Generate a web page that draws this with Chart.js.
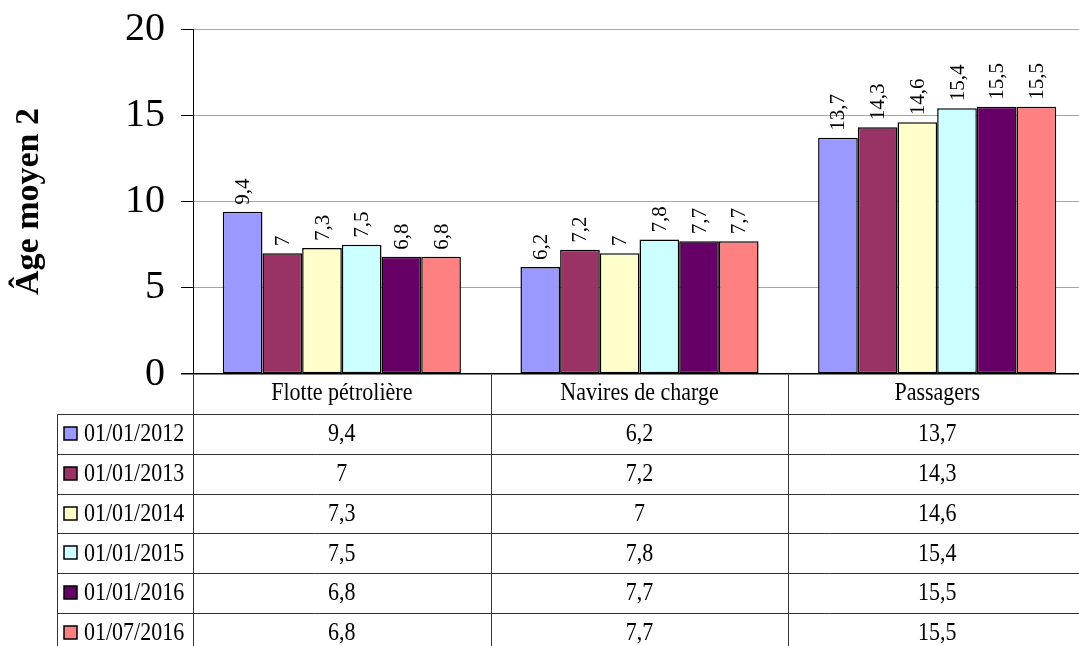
<!DOCTYPE html>
<html lang="fr">
<head>
<meta charset="utf-8">
<script src="https://cdn.jsdelivr.net/npm/chart.js@4.4.1/dist/chart.umd.min.js"></script>
<style>
  html, body { margin: 0; padding: 0; background: #fff; overflow: hidden; }
  #wrap { width: 1086px; height: 646px; }
</style>
</head>
<body>
<div id="wrap"><canvas id="graphe" width="1086" height="646"></canvas></div>
<script>
/* Âge moyen de la flotte, par type de navire et par date */

const CATEGORIES = ["Flotte pétrolière", "Navires de charge", "Passagers"];
const DATES = ["01/01/2012", "01/01/2013", "01/01/2014", "01/01/2015", "01/01/2016", "01/07/2016"];
const AGE_2012 = [9.4, 6.2, 13.7];
const AGE_2013 = [7, 7.2, 14.3];
const AGE_2014 = [7.3, 7, 14.6];
const AGE_2015 = [7.5, 7.8, 15.4];
const AGE_2016 = [6.8, 7.7, 15.5];
const AGE_2016_07 = [6.8, 7.7, 15.5];
const Y_TICKS = [0, 5, 10, 15, 20];

const SERIES = [AGE_2012, AGE_2013, AGE_2014, AGE_2015, AGE_2016, AGE_2016_07];
const COULEURS = ["#9999FF", "#993366", "#FFFFCC", "#CCFFFF", "#660066", "#FF8080"];
const POLICE = "'Liberation Serif', 'Times New Roman', serif";

const fmt = v => String(v).replace(".", ",");

// étiquettes verticales au-dessus des barres
const etiquettes = {
  id: "etiquettes",
  afterDatasetsDraw(chart) {
    const ctx = chart.ctx;
    ctx.save();
    ctx.fillStyle = "#000";
    ctx.font = `21px ${POLICE}`;
    ctx.textAlign = "left";
    ctx.textBaseline = "middle";
    chart.data.datasets.forEach((ds, i) => {
      chart.getDatasetMeta(i).data.forEach((bar, j) => {
        ctx.save();
        ctx.translate(bar.x, bar.y - 7);
        ctx.rotate(-Math.PI / 2);
        ctx.fillText(fmt(ds.data[j]), 0, 1);
        ctx.restore();
      });
    });
    ctx.restore();
  },
};

// table de données sous le graphique (style Excel)
const tableDonnees = {
  id: "tableDonnees",
  afterDraw(chart) {
    const ctx = chart.ctx;
    const { left, right, bottom } = chart.chartArea;
    const larg = (right - left) / CATEGORIES.length;
    const hautCat = 40;
    const hautLigne = 39.8;
    const xTable = 57;
    const yTable = bottom + hautCat;
    const yFin = chart.height;

    ctx.save();
    ctx.strokeStyle = "#333";
    ctx.lineWidth = 1;
    const trait = (x1, y1, x2, y2) => {
      ctx.beginPath();
      ctx.moveTo(Math.round(x1) + 0.5, Math.round(y1) + 0.5);
      ctx.lineTo(Math.round(x2) + 0.5, Math.round(y2) + 0.5);
      ctx.stroke();
    };

    // verticales
    trait(left, bottom, left, yFin);
    for (let c = 1; c <= CATEGORIES.length; c++) trait(left + c * larg, bottom, left + c * larg, yFin);
    trait(xTable, yTable, xTable, yFin);
    // horizontales
    for (let r = 0; r < DATES.length; r++) trait(xTable, yTable + r * hautLigne, right, yTable + r * hautLigne);

    // texte légèrement étiré en hauteur comme dans l'original
    const texte = (t, x, y) => {
      ctx.save();
      ctx.translate(x, y);
      ctx.scale(1, 1.1);
      ctx.fillText(t, 0, 0);
      ctx.restore();
    };

    ctx.fillStyle = "#000";
    ctx.font = `22px ${POLICE}`;
    ctx.textBaseline = "middle";
    ctx.textAlign = "center";
    CATEGORIES.forEach((c, j) => texte(c, left + (j + 0.5) * larg, bottom + hautCat / 2));

    DATES.forEach((d, r) => {
      const yc = yTable + (r + 0.5) * hautLigne;
      ctx.fillStyle = COULEURS[r];
      ctx.fillRect(64, Math.round(yc - 7), 13, 13);
      ctx.strokeStyle = "#000";
      ctx.lineWidth = 1.5;
      ctx.strokeRect(64, Math.round(yc - 7), 13, 13);
      ctx.fillStyle = "#000";
      ctx.textAlign = "left";
      texte(d, 84, yc + 1);
      ctx.textAlign = "center";
      SERIES[r].forEach((v, j) => texte(fmt(v), left + (j + 0.5) * larg, yc + 1));
    });
    ctx.restore();
  },
};

new Chart(document.getElementById("graphe"), {
  type: "bar",
  data: {
    labels: CATEGORIES,
    datasets: SERIES.map((s, i) => ({
      label: DATES[i],
      data: s,
      backgroundColor: COULEURS[i],
      borderColor: "#000",
      borderWidth: 1.5,
      borderSkipped: false,
      barPercentage: 1,
      categoryPercentage: 0.8,
    })),
  },
  options: {
    responsive: false,
    animation: false,
    layout: { padding: { top: 29, bottom: 272, left: 0, right: 0 } },
    plugins: { legend: { display: false }, tooltip: { enabled: false } },
    scales: {
      x: { display: false },
      y: {
        min: 0,
        max: 20,
        afterBuildTicks: axis => { axis.ticks = Y_TICKS.map(v => ({ value: v })); },
        afterFit: axis => {
          axis.width = 193;
          axis.paddingTop = 0;
          axis.paddingBottom = 0;
        },
        ticks: { color: "#000", padding: 16, font: { family: POLICE, size: 40 } },
        grid: {
          color: c => (c.tick && c.tick.value === 0 ? "#000" : "#a6a6a6"),
          lineWidth: c => (c.tick && c.tick.value === 0 ? 1.5 : 1),
          tickLength: 12,
          tickColor: "#000",
        },
        border: { color: "#000", width: 1 },
        title: {
          display: true,
          text: "Âge moyen 2",
          color: "#000",
          padding: { top: 9, bottom: 0 },
          font: { family: POLICE, size: 34, weight: "bold" },
        },
      },
    },
  },
  plugins: [etiquettes, tableDonnees],
});
</script>
</body>
</html>
